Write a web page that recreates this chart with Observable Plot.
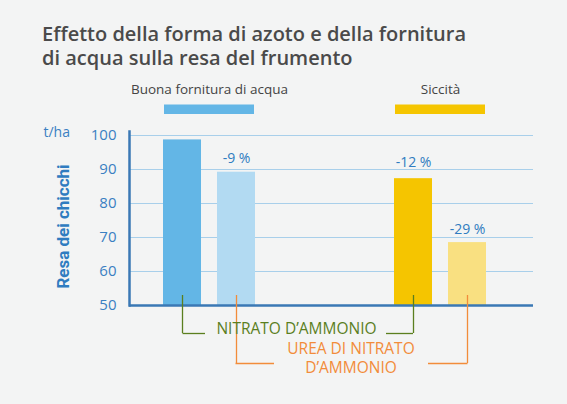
<!DOCTYPE html>
<html>
<head>
<meta charset="utf-8">
<script src="https://cdn.jsdelivr.net/npm/d3@7"></script>
<script src="https://cdn.jsdelivr.net/npm/@observablehq/plot@0.6"></script>
<style>
  body { margin: 0; background: #f3f4f4; font-family: "Open Sans", sans-serif; }
  #titolo { box-sizing: border-box; height: 72px; padding: 22px 0 0 42px; font-size: 20px; line-height: 24px; font-weight: 600; color: #4a4a4a; }
</style>
</head>
<body>
<div id="titolo">Effetto della forma di azoto e della fornitura<br>di acqua sulla resa del frumento</div>
<div id="chart"></div>
<script>
// condizioni idriche (gruppi)
const gruppi = ["Buona fornitura di acqua", "Siccità"];
// resa in t/ha (indice)
const nitrato = [98.7, 87.3];   // nitrato d'ammonio
const urea = [89.2, 68.5];      // urea di nitrato d'ammonio
const etichetteNitrato = ["", "-12 %"];
const etichetteUrea = ["-9 %", "-29 %"];
const yTicks = [50, 60, 70, 80, 90, 100];
const unita = "t/ha";
const titoloY = "Resa dei chicchi";
const legendaNitrato = "NITRATO D\u2019AMMONIO";
const legendaUrea = "UREA DI NITRATO\nD\u2019AMMONIO";

const coloriNitrato = {"Buona fornitura di acqua": "#63b6e6", "Siccità": "#f5c500"};
const coloriUrea = {"Buona fornitura di acqua": "#b2daf2", "Siccità": "#f9e081"};
const blu = "#2f7cc0";
const verde = "#5b7f1e";
const arancio = "#f28c3a";

const righe = gruppi.map((g, i) => ({
  gruppo: g, nitrato: nitrato[i], urea: urea[i],
  labN: etichetteNitrato[i], labU: etichetteUrea[i]
}));

const base = yTicks[0];

let chart = Plot.plot({
  width: 567,
  height: 332,
  marginLeft: 129,
  marginRight: 34,
  marginTop: 63,
  marginBottom: 99,
  style: {fontFamily: "'Open Sans', sans-serif", background: "transparent", overflow: "visible"},
  x: {domain: gruppi, range: [163, 486], paddingInner: 0.6017, paddingOuter: 0, round: false, axis: null},
  y: {domain: [50, 100]},
  marks: [
    Plot.gridY({ticks: yTicks, stroke: "#a8cfea", strokeOpacity: 1}),
    // intestazioni dei gruppi
    Plot.text(gruppi, {x: d => d, text: d => d, frameAnchor: "top", lineAnchor: "bottom", dy: -42, fontSize: 13.5, fill: "#444"}),
    Plot.cell(gruppi, {x: d => d, fill: d => coloriNitrato[d], insetTop: -30.5, insetBottom: 191, insetLeft: 1, insetRight: 1}),
    Plot.barY(righe, {x: "gruppo", y1: base, y2: "nitrato", fill: d => coloriNitrato[d.gruppo], insetLeft: 0, insetRight: 54}),
    Plot.barY(righe, {x: "gruppo", y1: base, y2: "urea", fill: d => coloriUrea[d.gruppo], insetLeft: 54, insetRight: 0}),
    Plot.text(righe, {x: "gruppo", y: "nitrato", text: "labN", dx: -27, dy: -16, fontSize: 14, fill: blu}),
    Plot.text(righe, {x: "gruppo", y: "urea", text: "labU", dx: 27, dy: -13.5, fontSize: 14, fill: blu}),
    // assi
    Plot.ruleY([base], {stroke: "#3a78b5", strokeWidth: 2.5}),
    Plot.frame({anchor: "left", stroke: "#3a78b5", strokeWidth: 2.5, insetTop: -4}),
    Plot.axisY({ticks: yTicks, tickSize: 0, tickPadding: 13, fontSize: 15, color: "#3a80c2", label: null}),
    Plot.text([unita], {text: d => d, frameAnchor: "top-left", textAnchor: "start", lineAnchor: "bottom", dx: -86, dy: 1, fontSize: 14, fill: "#3a80c2"}),
    Plot.text([titoloY], {text: d => d, frameAnchor: "left", textAnchor: "middle", rotate: -90, dx: -66, dy: 6, fontSize: 17, fontWeight: "bold", fontFamily: "Roboto, sans-serif", fill: blu}),
    // richiami
    Plot.ruleX(gruppi, {x: d => d, dx: -27, stroke: verde, strokeWidth: 1.3, insetTop: 160, insetBottom: -28}),
    Plot.ruleX(gruppi, {x: d => d, dx: 27, stroke: arancio, strokeWidth: 1.3, insetTop: 160, insetBottom: -58}),
    Plot.ruleY([base], {dy: 28, stroke: verde, strokeWidth: 1.3, insetLeft: 53.5, insetRight: 328}),
    Plot.ruleY([base], {dy: 28, stroke: verde, strokeWidth: 1.3, insetLeft: 257, insetRight: 120}),
    Plot.ruleY([base], {dy: 58, stroke: arancio, strokeWidth: 1.3, insetLeft: 106.5, insetRight: 259}),
    Plot.ruleY([base], {dy: 58, stroke: arancio, strokeWidth: 1.3, insetLeft: 299, insetRight: 65.5}),
    Plot.text([legendaNitrato], {text: d => d, frameAnchor: "bottom", dx: -35, dy: 28, fontSize: 15.5, fill: verde}),
    Plot.text([legendaUrea], {text: d => d, frameAnchor: "bottom", dx: 19.5, dy: 67, fontSize: 15.5, lineHeight: 1.2, fill: arancio})
  ]
});

d3.select('#chart').append(() => chart);
</script>
</body>
</html>
